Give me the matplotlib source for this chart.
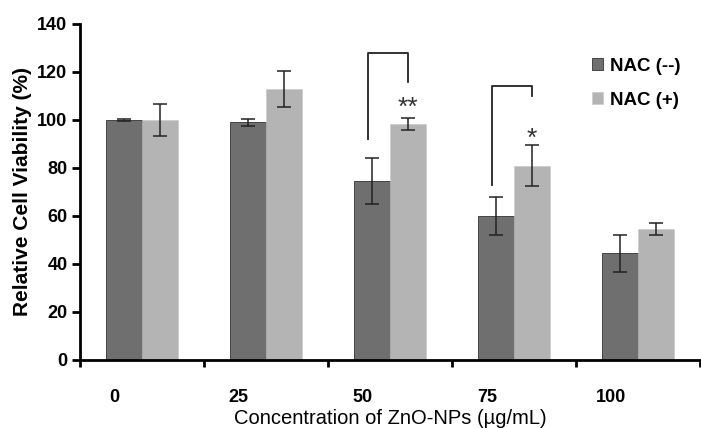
import matplotlib
matplotlib.use("Agg")
import matplotlib.pyplot as plt
import numpy as np

categories = ["0", "25", "50", "75", "100"]
nac_minus = [100, 99, 74.5, 60, 44.5]
nac_minus_err = [0.5, 1.5, 9.5, 8, 7.7]
nac_plus = [100, 113, 98.5, 81, 54.5]
nac_plus_err = [6.5, 7.5, 2.5, 8.5, 2.5]
yticks = [0, 20, 40, 60, 80, 100, 120, 140]

plt.rcParams['font.family'] = ['Liberation Sans', 'DejaVu Sans']

fig = plt.figure(figsize=(7.01, 4.28), dpi=100)
ax = fig.add_axes([0.114, 0.159, 0.885, 0.785])

x = np.arange(len(categories))
w = 0.29
dark = '#6f6f6f'
light = '#b4b4b4'
ax.bar(x - w/2, nac_minus, w, color=dark, edgecolor='#333333', linewidth=0.6, label='NAC (--)')
ax.bar(x + w/2, nac_plus, w, color=light, edgecolor='#c8c8c8', linewidth=0.4, label='NAC (+)')
ax.errorbar(x - w/2, nac_minus, yerr=nac_minus_err, fmt='none', ecolor='#222222', elinewidth=1.1, capsize=5, capthick=1.1)
ax.errorbar(x + w/2, nac_plus, yerr=nac_plus_err, fmt='none', ecolor='#222222', elinewidth=1.1, capsize=5, capthick=1.1)

# significance brackets
def bracket(i, yl, yr, top, star, ystar):
    xl = x[i] - w/2 - 0.03
    xr = x[i] + w/2
    ax.plot([xl, xl, xr, xr], [yl, top, top, yr], color='#222222', lw=1.3)
    ax.text(xr, ystar, star, ha='center', va='center', fontsize=19, color='#333333')

bracket(2, 92, 116, 128, '**', 105)
bracket(3, 73, 110, 114, '*', 92)

ax.set_xlim(-0.5, 4.5)
ax.set_ylim(0, 140)
ax.set_yticks(yticks)
ax.set_yticklabels([str(t) for t in yticks], fontsize=13, fontweight='bold')
ax.set_xticks(np.arange(-0.5, 5.0, 1.0), minor=True)
ax.set_xticks(x - 0.22)
ax.set_xticklabels(categories, fontsize=13, fontweight='bold')
ax.tick_params(axis='x', which='major', length=0, pad=21)
ax.tick_params(axis='x', which='minor', length=5, width=2, direction='out')
ax.tick_params(axis='y', length=6, width=2, direction='out', pad=3)
for s in ['top', 'right']:
    ax.spines[s].set_visible(False)
for s in ['left', 'bottom']:
    ax.spines[s].set_linewidth(2)

ax.set_ylabel('Relative Cell Viability (%)', fontsize=15, fontweight='bold', labelpad=4)
ax.set_xlabel('Concentration of ZnO-NPs (µg/mL)', fontsize=14.5, labelpad=2)

ax.legend(loc='upper right', bbox_to_anchor=(0.995, 0.95), frameon=False,
          prop={'weight': 'bold', 'size': 13.5}, handlelength=0.6, handleheight=0.6,
          handletextpad=0.35, labelspacing=0.9)

fig.savefig('out.png', dpi=100)
